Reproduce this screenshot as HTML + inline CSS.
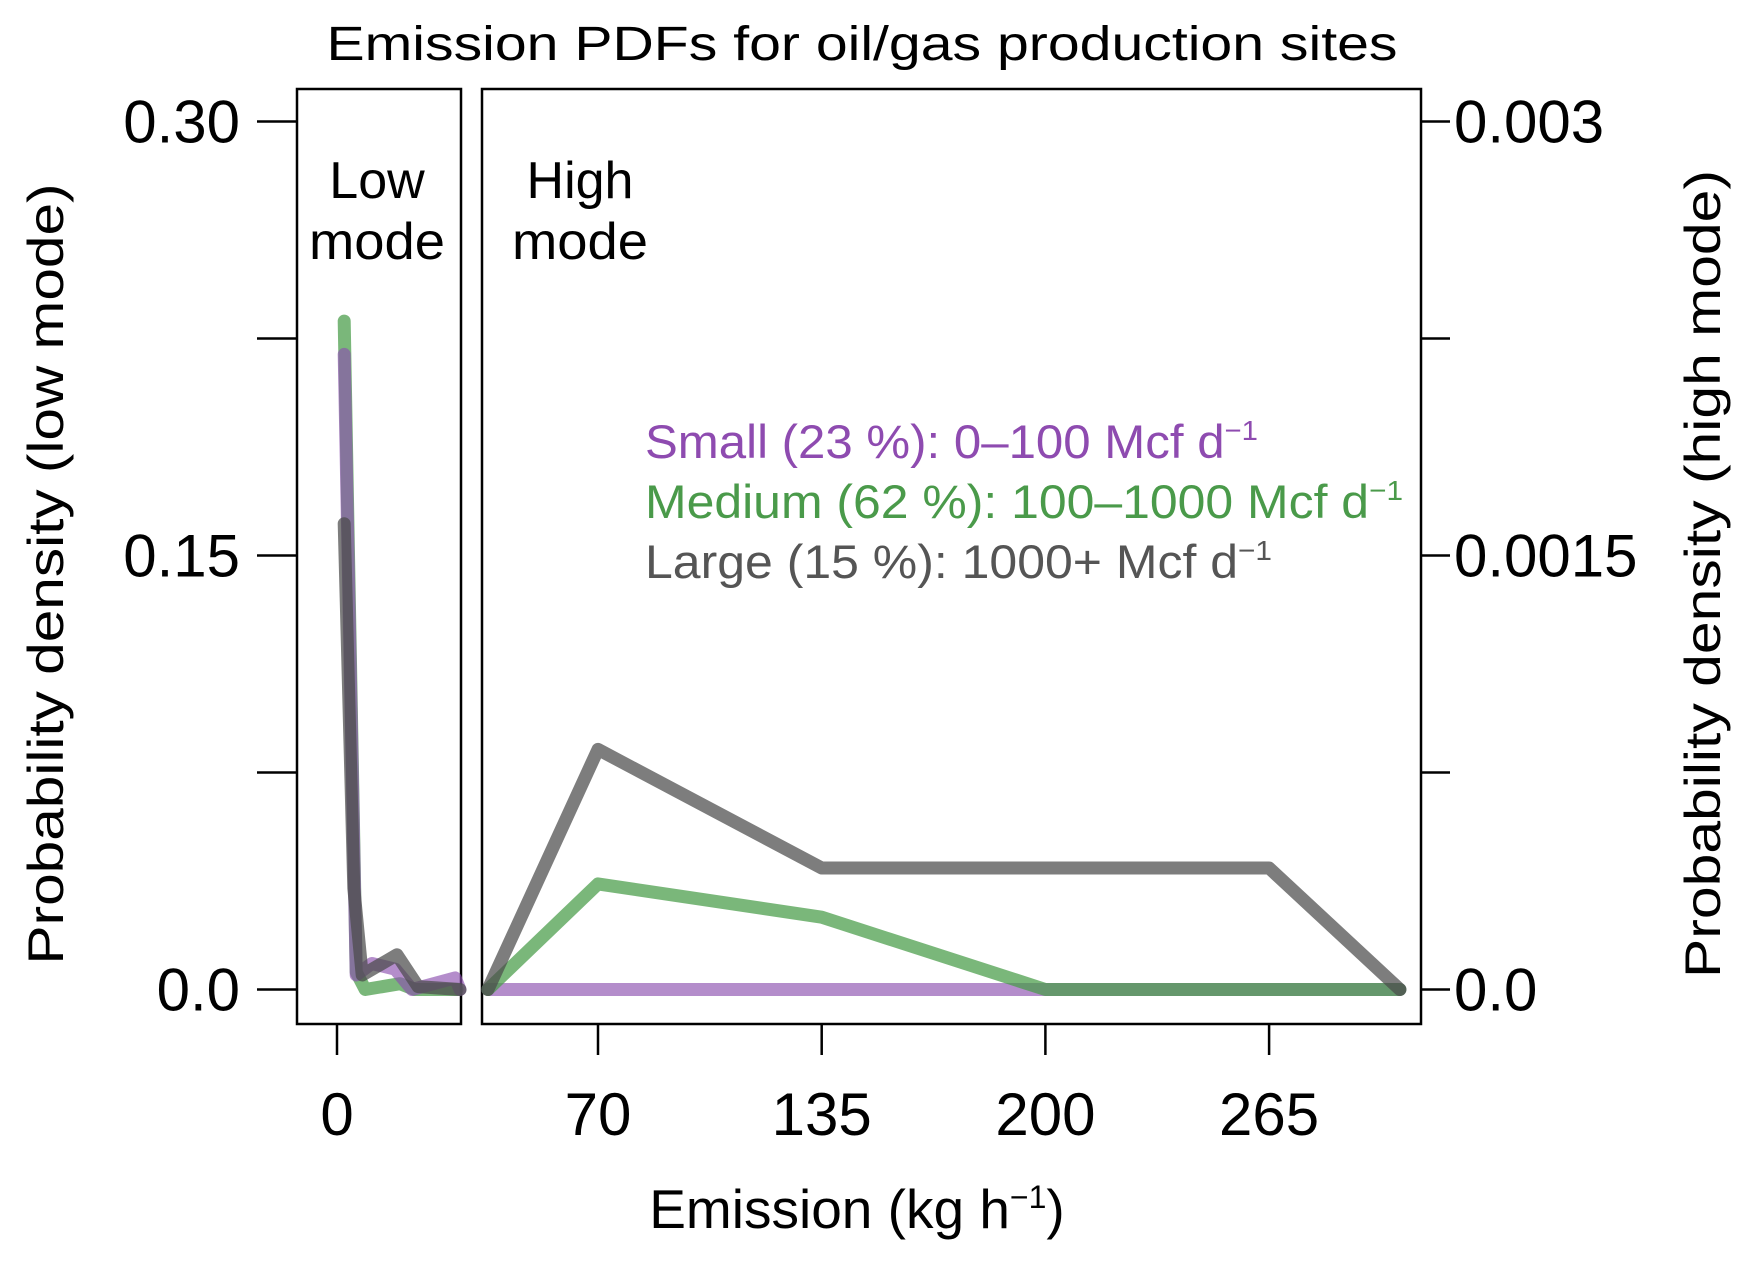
<!DOCTYPE html>
<html><head><meta charset="utf-8"><style>
html,body{margin:0;padding:0;background:#fff}
svg{display:block;font-family:"Liberation Sans","DejaVu Sans",sans-serif}
</style></head><body>
<svg id="chart" width="1749" height="1261" viewBox="0 0 1749 1261">
<text x="862" y="60" font-size="48" text-anchor="middle" textLength="1071" lengthAdjust="spacingAndGlyphs">Emission PDFs for oil/gas production sites</text>
<rect x="297" y="89" width="164" height="935" fill="none" stroke="#000" stroke-width="2.5"/>
<rect x="482" y="89" width="939" height="935" fill="none" stroke="#000" stroke-width="2.5"/>
<text x="377" y="198" font-size="52" text-anchor="middle">Low</text>
<text x="377" y="259" font-size="52" text-anchor="middle" textLength="136" lengthAdjust="spacingAndGlyphs">mode</text>
<text x="580" y="198" font-size="52" text-anchor="middle">High</text>
<text x="580" y="259" font-size="52" text-anchor="middle" textLength="136" lengthAdjust="spacingAndGlyphs">mode</text>
<g id="axes"></g>
<g id="series"></g>
<g font-size="47">
<text x="645" y="458" fill="#8e4bb0" textLength="613" lengthAdjust="spacingAndGlyphs">Small (23 %): 0–100 Mcf d<tspan font-size="28" dy="-18">−1</tspan></text>
<text x="645" y="518" fill="#4a9a4a" textLength="758" lengthAdjust="spacingAndGlyphs">Medium (62 %): 100–1000 Mcf d<tspan font-size="28" dy="-18">−1</tspan></text>
<text x="645" y="578" fill="#555" textLength="627" lengthAdjust="spacingAndGlyphs">Large (15 %): 1000+ Mcf d<tspan font-size="28" dy="-18">−1</tspan></text>
</g>
<text transform="translate(63,574) rotate(-90)" font-size="50" text-anchor="middle" textLength="781" lengthAdjust="spacingAndGlyphs">Probability density (low mode)</text>
<text transform="translate(1720,574) rotate(-90)" font-size="50" text-anchor="middle" textLength="808" lengthAdjust="spacingAndGlyphs">Probability density (high mode)</text>
<text x="857" y="1228" font-size="55" text-anchor="middle">Emission (kg h<tspan font-size="32" dy="-20">−1</tspan><tspan dy="20">)</tspan></text>
</svg>
<script>
// Left (low mode) panel data
const lowX_green = [1.2, 3.2, 4.7, 10.5, 13, 20];
const lowY_green = [0.231, 0.006, 0.0, 0.002, 0.0, 0.0];
const lowX_purple = [1.2, 3.2, 5.8, 9.7, 12.5, 19.7, 20.5];
const lowY_purple = [0.2195, 0.005, 0.009, 0.007, 0.0, 0.004, 0.0];
const lowX_grey = [1.2, 2.8, 4.2, 10, 13.5, 20.5];
const lowY_grey = [0.161, 0.035, 0.005, 0.012, 0.001, 0.0];
// Right (high mode) panel data
const highX = [38, 70, 135, 200, 265, 303];
const highY_grey = [0, 0.00083, 0.00042, 0.00042, 0.00042, 0];
const highY_green = [0, 0.000365, 0.00025, 0, 0, 0];
const highY_purple = [0, 0, 0, 0, 0, 0];
const leftTicks = [0, 0.075, 0.15, 0.225, 0.30];
const leftTickLabels = ["0.0", "", "0.15", "", "0.30"];
const rightTicks = [0, 0.00075, 0.0015, 0.00225, 0.003];
const rightTickLabels = ["0.0", "", "0.0015", "", "0.003"];
const xTicksHigh = [70, 135, 200, 265];
const xTicksLow = [0];

const NS = "http://www.w3.org/2000/svg";
const yL = v => 989.5 - v / 0.3 * 868;
const yR = v => 989.5 - v / 0.003 * 868;
const xL = v => 337 + v * 6;
const xH = v => 598 + (v - 70) * 3.4415;
const axes = document.getElementById('axes');
const series = document.getElementById('series');
function mk(tag, attrs, parent) {
  const e = document.createElementNS(NS, tag);
  for (const k in attrs) e.setAttribute(k, attrs[k]);
  parent.appendChild(e);
  return e;
}
leftTicks.forEach((t, i) => {
  const l = mk('line', {x1: 257, x2: 297, y1: yL(t), y2: yL(t), stroke: '#000', 'stroke-width': 2.5}, axes);
  
  
  if (leftTickLabels[i]) {
    const tx = mk('text', {x: 240, y: yL(t) + 21, 'font-size': 60, 'text-anchor': 'end'}, axes);
    tx.textContent = leftTickLabels[i];
    
    
  }
});
rightTicks.forEach((t, i) => {
  const l = mk('line', {x1: 1421, x2: 1450, y1: yR(t), y2: yR(t), stroke: '#000', 'stroke-width': 2.5}, axes);
  
  
  if (rightTickLabels[i]) {
    const tx = mk('text', {x: 1454, y: yR(t) + 21, 'font-size': 60}, axes);
    tx.textContent = rightTickLabels[i];
    
    
  }
});
function xtick(x, label) {
  const l = mk('line', {x1: x, x2: x, y1: 1024, y2: 1055, stroke: '#000', 'stroke-width': 2.5}, axes);
  
  
  const tx = mk('text', {x: x, y: 1135, 'font-size': 60, 'text-anchor': 'middle'}, axes);
  tx.textContent = label;
  
  
}
xTicksLow.forEach(v => xtick(xL(v), String(v)));
xTicksHigh.forEach(v => xtick(xH(v), String(v)));

function line(xs, ys, fx, fy, color, name) {
  const pts = xs.map((x, i) => fx(x).toFixed(1) + ',' + fy(ys[i]).toFixed(1)).join(' ');
  const p = mk('polyline', {points: pts, fill: 'none', stroke: color, 'stroke-width': 13, 'stroke-linejoin': 'round', 'stroke-linecap': 'round'}, series);
  
  
}
const GREEN = 'rgba(70,155,70,0.72)', PURPLE = 'rgba(140,80,175,0.65)', GREY = 'rgba(75,75,75,0.72)';
line(lowX_green, lowY_green, xL, yL, GREEN, 'low-medium-line');
line(lowX_purple, lowY_purple, xL, yL, PURPLE, 'low-small-line');
line(lowX_grey, lowY_grey, xL, yL, GREY, 'low-large-line');
line(highX, highY_purple, xH, yR, PURPLE, 'high-small-line');
line(highX, highY_green, xH, yR, GREEN, 'high-medium-line');
line(highX, highY_grey, xH, yR, GREY, 'high-large-line');
</script>
</body></html>
